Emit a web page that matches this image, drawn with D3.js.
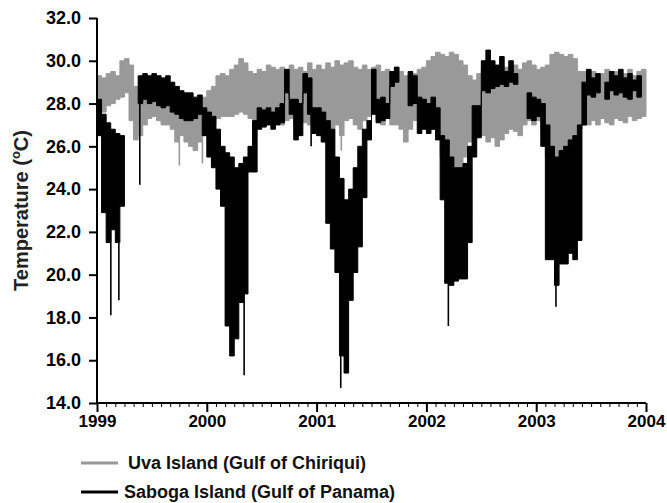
<!doctype html>
<html lang="en">
  <head>
    <meta charset="utf-8"/>
    <title>Uva vs Saboga temperature</title>
    <script src="https://cdn.jsdelivr.net/npm/d3@7"></script>
    <style>
      body { margin: 0; background: #fff; }
      text { font-family: "Liberation Sans", Arial, sans-serif; font-weight: bold; }
    </style>
  </head>
  <body>
    <div id="chart"></div>
    <script>
      // half-month bins, 1999.0 - 2004.0 (24 per year)
      var uvaHi = [
        29.3,29.2,29.4,29.5,29.3,30.0,30.1,29.8,28.8,28.8,28.6,28.5,28.6,28.5,28.4,28.3,28.2,28.0,27.9,27.8,27.8,27.9,28.0,28.3,
        28.6,28.8,29.3,29.4,29.3,29.6,29.8,30.1,29.9,29.5,29.4,29.6,29.5,29.8,29.7,29.6,29.7,29.5,29.8,29.6,29.7,29.5,29.9,29.6,
        29.8,29.6,29.9,29.7,30.0,29.8,29.9,30.0,29.7,29.6,29.8,29.6,29.7,29.8,29.5,29.6,29.4,29.7,29.5,29.3,29.2,29.4,29.6,29.7,
        30.0,30.2,30.4,30.3,30.2,30.4,30.3,30.0,29.8,29.3,29.1,29.4,29.6,29.5,29.6,29.4,29.6,29.7,29.5,29.8,29.6,29.9,30.0,29.8,
        29.6,29.7,29.8,30.3,30.4,30.3,30.2,30.3,30.1,29.5,29.5,29.3,29.5,29.2,29.4,29.6,29.3,29.5,29.2,29.4,29.6,29.3,29.5,29.6
      ];
      var uvaLo = [
        27.8,27.6,27.9,28.0,28.2,28.3,28.5,27.2,26.3,26.5,27.0,27.3,27.4,27.2,27.0,27.0,26.8,26.2,26.5,26.2,26.0,25.8,26.2,26.5,
        26.9,27.0,27.3,27.4,27.4,27.4,27.5,27.6,27.5,27.3,27.2,27.2,27.3,27.4,27.3,27.2,27.0,27.2,27.3,27.0,27.2,27.1,27.0,26.9,
        27.0,27.2,27.0,26.8,27.0,26.5,27.2,27.3,27.0,26.8,27.2,27.4,27.5,27.2,27.0,27.3,27.0,27.0,26.8,26.2,26.8,27.2,27.3,27.0,
        27.0,26.8,26.5,25.5,24.5,24.0,25.0,24.5,25.5,26.2,26.3,26.6,26.5,26.2,26.4,26.0,26.3,26.6,26.8,26.7,26.5,27.0,27.2,27.0,
        27.2,26.8,25.5,24.0,24.5,25.5,26.0,25.8,26.2,26.8,27.0,27.0,27.2,27.0,27.3,27.1,27.0,27.3,27.2,27.1,27.4,27.2,27.3,27.4
      ];
      // Saboga: only the part that shows above / below the grey band (null = hidden)
      var sabHi = [
        28.2,27.5,27.1,26.8,26.6,26.5,null,null,null,29.3,29.4,29.3,29.4,29.3,29.2,29.3,29.0,28.8,28.6,28.5,28.5,28.3,28.4,27.8,
        27.6,27.4,26.8,26.0,25.7,25.5,25.0,25.2,25.5,26.0,27.2,27.8,27.7,27.8,27.6,27.8,28.0,29.6,28.2,28.2,28.0,29.4,29.2,27.8,
        27.8,27.6,27.2,26.8,25.5,24.5,23.5,24.0,25.0,26.0,26.8,27.2,29.6,28.2,28.3,28.0,29.5,29.7,null,null,29.5,29.3,28.3,28.2,
        28.0,28.3,27.8,26.5,26.3,25.5,25.0,25.0,25.2,26.0,27.9,27.9,30.0,30.5,30.0,29.8,30.2,29.5,30.0,29.4,null,null,28.5,28.3,
        28.2,28.0,27.0,26.0,25.5,25.8,26.0,26.3,26.5,27.0,29.0,29.6,29.2,29.4,null,29.0,29.5,29.3,29.6,29.2,29.4,29.1,29.3,null
      ];
      var sabLo = [
        26.5,22.9,21.5,22.1,21.5,23.2,null,null,null,28.0,28.2,28.0,28.1,27.9,27.8,27.9,27.6,27.5,27.3,27.2,27.2,27.3,27.5,26.5,
        25.5,25.0,24.0,23.2,17.6,16.2,17.0,18.7,19.1,24.8,24.8,26.8,26.9,27.0,26.8,27.0,27.1,28.5,27.5,26.3,26.5,28.5,27.5,26.6,
        26.5,26.2,22.4,21.2,20.1,16.2,15.4,18.8,20.1,21.3,23.6,26.3,27.5,27.1,27.2,27.3,28.8,29.0,null,null,27.9,28.0,26.6,26.8,
        26.6,26.8,26.3,23.5,19.6,19.5,19.7,19.8,19.8,21.5,25.5,26.4,28.6,28.5,28.7,28.8,28.9,28.8,29.0,28.9,null,null,27.3,27.2,
        27.4,26.0,20.7,20.7,19.5,20.5,20.5,21.0,20.7,21.6,27.0,28.4,28.3,28.5,null,28.2,28.6,28.4,28.5,28.3,28.2,28.6,28.3,null
      ];
      // narrow single-day extremes [decimal year, temperature]
      var uvaSpikes = [[1999.75, 25.1], [1999.96, 25.2], [2001.225, 25.8], [2002.24, 23.2], [2003.15, 23.6]];
      var sabSpikes = [[1999.055, 24.6], [1999.126, 18.1], [1999.199, 18.8], [1999.39, 24.2], [2000.95, 26.0],
                       [2000.34, 15.3], [2001.22, 14.7], [2002.2, 17.6], [2003.18, 18.5]];
      var yearTicks = [1999, 2000, 2001, 2002, 2003, 2004];
      var tempTicks = [14, 16, 18, 20, 22, 24, 26, 28, 30, 32];
      var seriesNames = ["Uva Island (Gulf of Chiriqui)", "Saboga Island (Gulf of Panama)"];

      var w = 667, h = 503;
      var padL = 97, padR = 646, padT = 18, padB = 403;

      var svg = d3.select("#chart").append("svg")
        .attr("width", w).attr("height", h);

      var x = d3.scaleLinear().domain([1999, 2004]).range([padL, padR]);
      var y = d3.scaleLinear().domain([14, 32]).range([padB, padT]);

      function bins(hi, lo) {
        var pts = [];
        hi.forEach(function(v, i) {
          var t0 = 1999 + i / 24, t1 = 1999 + (i + 1) / 24;
          pts.push({t: t0, hi: v, lo: lo[i]});
          pts.push({t: t1, hi: v, lo: lo[i]});
        });
        return pts;
      }

      var area = d3.area()
        .defined(function(d) { return d.hi != null; })
        .x(function(d) { return x(d.t); })
        .y0(function(d) { return y(d.lo); })
        .y1(function(d) { return y(d.hi); });

      function drawSeries(hi, lo, spikes, color) {
        svg.append("path")
          .datum(bins(hi, lo))
          .attr("d", area)
          .attr("fill", color)
          .attr("stroke", color)
          .attr("stroke-width", 1);
        svg.selectAll(null)
          .data(spikes)
          .enter()
          .append("line")
          .attr("x1", function(d) { return x(d[0]); })
          .attr("x2", function(d) { return x(d[0]); })
          .attr("y1", function(d) {
            var i = Math.floor((d[0] - 1999) * 24);
            var base = lo[i] != null ? lo[i] : hi[i];
            return y(base != null ? base : d[1]);
          })
          .attr("y2", function(d) { return y(d[1]); })
          .attr("stroke", color)
          .attr("stroke-width", 1.6);
      }

      drawSeries(uvaHi, uvaLo, uvaSpikes, "#999999");
      drawSeries(sabHi, sabLo, sabSpikes, "#000000");

      // X axis: years with monthly minor ticks
      var months = d3.range(0, 61).map(function(m) { return 1999 + m / 12; });
      var xMinor = d3.axisBottom(x).tickValues(months).tickSize(4).tickFormat("");
      var gxm = svg.append("g")
        .attr("transform", "translate(0," + padB + ")")
        .call(xMinor);
      gxm.select(".domain").remove();
      gxm.selectAll("line").attr("stroke", "#000").attr("stroke-width", 1);

      var xAxis = d3.axisBottom(x).tickValues(yearTicks).tickSize(9).tickPadding(3)
        .tickFormat(d3.format("d"));
      var gx = svg.append("g")
        .attr("transform", "translate(0," + padB + ")")
        .call(xAxis);
      gx.select(".domain").attr("stroke-width", 2).attr("d", "M" + padL + ",0H" + padR);
      gx.selectAll("line").attr("stroke-width", 2);
      gx.selectAll("text").attr("font-size", "17px").attr("fill", "#000");

      // Y axis
      var yAxis = d3.axisLeft(y).tickValues(tempTicks).tickSize(8).tickPadding(8)
        .tickFormat(d3.format(".1f"));
      var gy = svg.append("g")
        .attr("transform", "translate(" + padL + ",0)")
        .call(yAxis);
      gy.select(".domain").attr("stroke-width", 2).attr("d", "M0," + padB + "V" + padT);
      gy.selectAll("line").attr("stroke-width", 2);
      gy.selectAll("text").attr("font-size", "18px").attr("fill", "#000");

      // Y title
      var title = svg.append("text")
        .attr("transform", "translate(28," + ((padT + padB) / 2) + ") rotate(-90)")
        .attr("text-anchor", "middle")
        .attr("font-size", "20px")
        .attr("fill", "#222");
      title.append("tspan").text("Temperature (");
      title.append("tspan").text("o").attr("font-size", "13px").attr("dy", "-8");
      title.append("tspan").text("C)").attr("dy", "8");

      // Legend
      var legend = svg.selectAll(".legend")
        .data(seriesNames)
        .enter()
        .append("g")
        .attr("transform", function(d, i) { return "translate(81," + (463 + i * 29) + ")"; });
      legend.append("line")
        .attr("x1", 0).attr("x2", 37)
        .attr("stroke", function(d, i) { return i === 0 ? "#999999" : "#000"; })
        .attr("stroke-width", 3);
      legend.append("text")
        .attr("x", function(d, i) { return i === 0 ? 47 : 43; })
        .attr("dy", "0.36em")
        .attr("font-size", "18px")
        .attr("fill", "#111")
        .text(function(d) { return d; });
    </script>
  </body>
</html>
